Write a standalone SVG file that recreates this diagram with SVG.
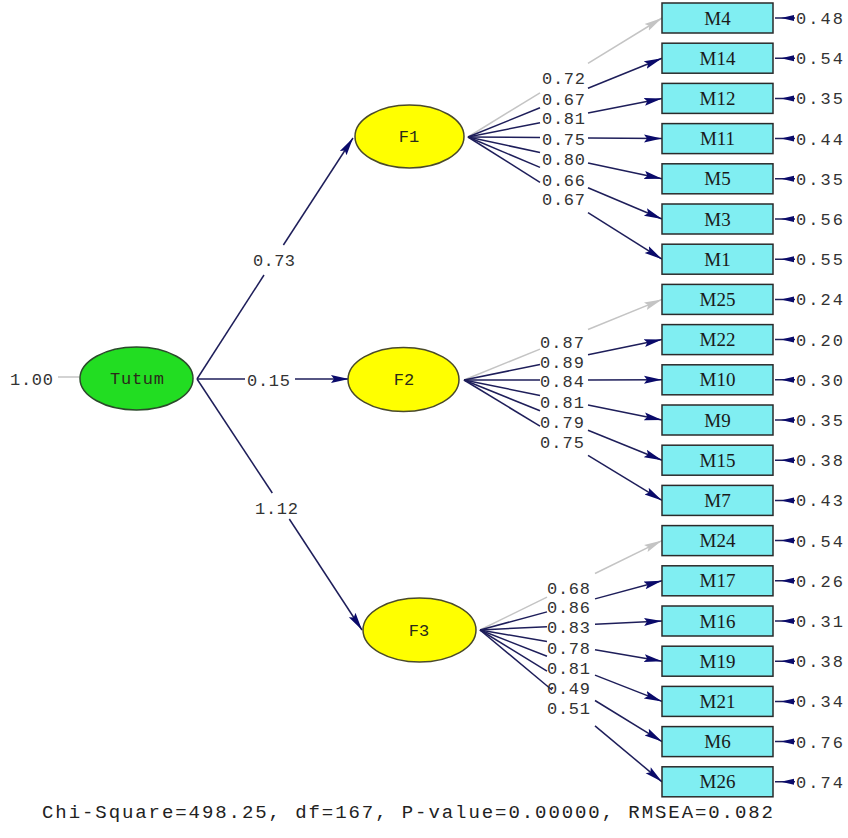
<svg xmlns="http://www.w3.org/2000/svg" width="848" height="838" viewBox="0 0 848 838">
<style>
.bg{fill:#ffffff}
.ln{stroke:#1e1e5a;stroke-width:1.5;fill:none}
.lg{stroke:#c4c4c4;stroke-width:1.5;fill:none}
.box{fill:#80eef2;stroke:#2a2a2a;stroke-width:1.5}
.lat{fill:#ffff00;stroke:#4a4a2a;stroke-width:1.5}
.ex{fill:#22dd22;stroke:#2a4a2a;stroke-width:1.5}
.bt{font-family:"Liberation Serif","Times New Roman",serif;font-size:19px;fill:#1a1a1a;text-anchor:middle}
.nt{font-family:"Liberation Mono","Courier New",monospace;font-size:17px;fill:#2a2a1a;text-anchor:middle}
.lb{font-family:"Liberation Mono","Courier New",monospace;font-size:17px;fill:#333333}
.ft{font-family:"Liberation Mono","Courier New",monospace;font-size:19px;fill:#222222}
.eh{fill:#0a0a6a}
</style>
<defs>
<marker id="ah" markerUnits="userSpaceOnUse" markerWidth="20" markerHeight="10" refX="18" refY="5" orient="auto" viewBox="0 0 20 10"><path d="M0,1 L18,5 L0,9 L3,5 Z" fill="#0a0a6a"/></marker>
<marker id="ag" markerUnits="userSpaceOnUse" markerWidth="20" markerHeight="10" refX="18" refY="5" orient="auto" viewBox="0 0 20 10"><path d="M0,1 L18,5 L0,9 L3,5 Z" fill="#c4c4c4"/></marker>
</defs>
<rect class="bg" x="0" y="0" width="848" height="838"/>
<g id="connectors">
<line class="lg" x1="58" y1="377" x2="80" y2="377"/>
<line class="ln" x1="197" y1="379" x2="264" y2="275"/>
<line class="ln" x1="283.4" y1="245" x2="353" y2="138" marker-end="url(#ah)"/>
<line class="ln" x1="197" y1="379" x2="245" y2="379"/>
<line class="ln" x1="295" y1="379" x2="349" y2="379" marker-end="url(#ah)"/>
<line class="ln" x1="197" y1="379" x2="272.3" y2="493"/>
<line class="ln" x1="289.3" y1="519" x2="362" y2="630" marker-end="url(#ah)"/>
<line class="lg" x1="468" y1="137" x2="540" y2="92.8"/><line class="lg" x1="588" y1="63.4" x2="662" y2="18" marker-end="url(#ag)"/>
<line class="ln" x1="468" y1="137" x2="540" y2="107.8"/><line class="ln" x1="588" y1="88.3" x2="662" y2="58.2" marker-end="url(#ah)"/>
<line class="ln" x1="468" y1="137" x2="540" y2="122.7"/><line class="ln" x1="588" y1="113.1" x2="662" y2="98.4" marker-end="url(#ah)"/>
<line class="ln" x1="468" y1="137" x2="540" y2="137.6"/><line class="ln" x1="588" y1="138" x2="662" y2="138.6" marker-end="url(#ah)"/>
<line class="ln" x1="468" y1="137" x2="540" y2="152.5"/><line class="ln" x1="588" y1="162.9" x2="662" y2="178.8" marker-end="url(#ah)"/>
<line class="ln" x1="468" y1="137" x2="540" y2="167.4"/><line class="ln" x1="588" y1="187.7" x2="662" y2="219" marker-end="url(#ah)"/>
<line class="ln" x1="468" y1="137" x2="540" y2="182.3"/><line class="ln" x1="588" y1="212.6" x2="662" y2="259.2" marker-end="url(#ah)"/>
<line class="lg" x1="464" y1="380" x2="540" y2="349.1"/><line class="lg" x1="588" y1="329.5" x2="662" y2="299.4" marker-end="url(#ag)"/>
<line class="ln" x1="464" y1="380" x2="540" y2="364.5"/><line class="ln" x1="588" y1="354.7" x2="662" y2="339.6" marker-end="url(#ah)"/>
<line class="ln" x1="464" y1="380" x2="540" y2="379.9"/><line class="ln" x1="588" y1="379.9" x2="662" y2="379.8" marker-end="url(#ah)"/>
<line class="ln" x1="464" y1="380" x2="540" y2="395.4"/><line class="ln" x1="588" y1="405.1" x2="662" y2="420" marker-end="url(#ah)"/>
<line class="ln" x1="464" y1="380" x2="540" y2="410.8"/><line class="ln" x1="588" y1="430.2" x2="662" y2="460.2" marker-end="url(#ah)"/>
<line class="ln" x1="464" y1="380" x2="540" y2="426.2"/><line class="ln" x1="588" y1="455.4" x2="662" y2="500.4" marker-end="url(#ah)"/>
<line class="lg" x1="480" y1="630" x2="547" y2="597.1"/><line class="lg" x1="595" y1="573.5" x2="662" y2="540.6" marker-end="url(#ag)"/>
<line class="ln" x1="480" y1="630" x2="547" y2="611.9"/><line class="ln" x1="595" y1="598.9" x2="662" y2="580.8" marker-end="url(#ah)"/>
<line class="ln" x1="480" y1="630" x2="547" y2="626.7"/><line class="ln" x1="595" y1="624.3" x2="662" y2="621" marker-end="url(#ah)"/>
<line class="ln" x1="480" y1="630" x2="547" y2="641.5"/><line class="ln" x1="595" y1="649.7" x2="662" y2="661.2" marker-end="url(#ah)"/>
<line class="ln" x1="480" y1="630" x2="547" y2="656.3"/><line class="ln" x1="595" y1="675.1" x2="662" y2="701.4" marker-end="url(#ah)"/>
<line class="ln" x1="480" y1="630" x2="547" y2="671.1"/><line class="ln" x1="595" y1="700.5" x2="662" y2="741.6" marker-end="url(#ah)"/>
<line class="ln" x1="480" y1="630" x2="552" y2="690"/><line class="ln" x1="595" y1="725.9" x2="662" y2="781.8" marker-end="url(#ah)"/>
<g id="errors">
<path class="ln" d="M775 18H795M775 58.2H795M775 98.4H795M775 138.6H795M775 178.8H795M775 219H795M775 259.2H795M775 299.4H795M775 339.6H795M775 379.8H795M775 420H795M775 460.2H795M775 500.4H795M775 540.6H795M775 580.8H795M775 621H795M775 661.2H795M775 701.4H795M775 741.6H795M775 781.8H795"/>
<path class="eh" d="M781 18l13 -3v6zM781 58.2l13 -3v6zM781 98.4l13 -3v6zM781 138.6l13 -3v6zM781 178.8l13 -3v6zM781 219l13 -3v6zM781 259.2l13 -3v6zM781 299.4l13 -3v6zM781 339.6l13 -3v6zM781 379.8l13 -3v6zM781 420l13 -3v6zM781 460.2l13 -3v6zM781 500.4l13 -3v6zM781 540.6l13 -3v6zM781 580.8l13 -3v6zM781 621l13 -3v6zM781 661.2l13 -3v6zM781 701.4l13 -3v6zM781 741.6l13 -3v6zM781 781.8l13 -3v6z"/>
</g>
<g id="path-labels" class="lb">
<text x="10" y="385" textLength="43">1.00</text>
<text x="253" y="266" textLength="42">0.73</text>
<text x="247" y="386" textLength="43">0.15</text>
<text x="255" y="514" textLength="43">1.12</text>
<text x="542" y="84" textLength="43">0.72</text>
<text x="542" y="105" textLength="43">0.67</text>
<text x="542" y="124" textLength="43">0.81</text>
<text x="542" y="145" textLength="43">0.75</text>
<text x="542" y="165" textLength="43">0.80</text>
<text x="542" y="186" textLength="43">0.66</text>
<text x="542" y="205" textLength="43">0.67</text>
<text x="540" y="348" textLength="44">0.87</text>
<text x="540" y="368" textLength="44">0.89</text>
<text x="540" y="387" textLength="44">0.84</text>
<text x="540" y="408" textLength="44">0.81</text>
<text x="540" y="428" textLength="44">0.79</text>
<text x="540" y="448" textLength="44">0.75</text>
<text x="547" y="594" textLength="43">0.68</text>
<text x="547" y="613" textLength="43">0.86</text>
<text x="547" y="633" textLength="43">0.83</text>
<text x="547" y="654" textLength="43">0.78</text>
<text x="547" y="674" textLength="43">0.81</text>
<text x="547" y="694" textLength="43">0.49</text>
<text x="547" y="714" textLength="43">0.51</text>
<text x="796" y="24" textLength="47">0.48</text>
<text x="796" y="64.2" textLength="47">0.54</text>
<text x="796" y="104.4" textLength="47">0.35</text>
<text x="796" y="144.6" textLength="47">0.44</text>
<text x="796" y="184.8" textLength="47">0.35</text>
<text x="796" y="225" textLength="47">0.56</text>
<text x="796" y="265.2" textLength="47">0.55</text>
<text x="796" y="305.4" textLength="47">0.24</text>
<text x="796" y="345.6" textLength="47">0.20</text>
<text x="796" y="385.8" textLength="47">0.30</text>
<text x="796" y="426" textLength="47">0.35</text>
<text x="796" y="466.2" textLength="47">0.38</text>
<text x="796" y="506.4" textLength="47">0.43</text>
<text x="796" y="546.6" textLength="47">0.54</text>
<text x="796" y="586.8" textLength="47">0.26</text>
<text x="796" y="627" textLength="47">0.31</text>
<text x="796" y="667.2" textLength="47">0.38</text>
<text x="796" y="707.4" textLength="47">0.34</text>
<text x="796" y="747.6" textLength="47">0.76</text>
<text x="796" y="787.8" textLength="47">0.74</text>
</g>
</g>
<g id="Tutum"><ellipse class="ex" cx="136.5" cy="378.5" rx="56.5" ry="31.5"/><text class="nt" x="137" y="384" textLength="54">Tutum</text></g>
<g id="F1"><ellipse class="lat" cx="409.5" cy="136.5" rx="54.5" ry="31.5"/><text class="nt" x="409" y="142">F1</text></g>
<g id="F2"><ellipse class="lat" cx="403.5" cy="379.5" rx="55.5" ry="32"/><text class="nt" x="404" y="385">F2</text></g>
<g id="F3"><ellipse class="lat" cx="419.5" cy="630" rx="56.5" ry="32"/><text class="nt" x="419" y="636">F3</text></g>
<g id="M4"><rect class="box" x="662" y="3" width="111" height="30"/><text class="bt" x="717.5" y="24.5">M4</text></g>
<g id="M14"><rect class="box" x="662" y="43.2" width="111" height="30"/><text class="bt" x="717.5" y="64.7">M14</text></g>
<g id="M12"><rect class="box" x="662" y="83.4" width="111" height="30"/><text class="bt" x="717.5" y="104.9">M12</text></g>
<g id="M11"><rect class="box" x="662" y="123.6" width="111" height="30"/><text class="bt" x="717.5" y="145.1">M11</text></g>
<g id="M5"><rect class="box" x="662" y="163.8" width="111" height="30"/><text class="bt" x="717.5" y="185.3">M5</text></g>
<g id="M3"><rect class="box" x="662" y="204" width="111" height="30"/><text class="bt" x="717.5" y="225.5">M3</text></g>
<g id="M1"><rect class="box" x="662" y="244.2" width="111" height="30"/><text class="bt" x="717.5" y="265.7">M1</text></g>
<g id="M25"><rect class="box" x="662" y="284.4" width="111" height="30"/><text class="bt" x="717.5" y="305.9">M25</text></g>
<g id="M22"><rect class="box" x="662" y="324.6" width="111" height="30"/><text class="bt" x="717.5" y="346.1">M22</text></g>
<g id="M10"><rect class="box" x="662" y="364.8" width="111" height="30"/><text class="bt" x="717.5" y="386.3">M10</text></g>
<g id="M9"><rect class="box" x="662" y="405" width="111" height="30"/><text class="bt" x="717.5" y="426.5">M9</text></g>
<g id="M15"><rect class="box" x="662" y="445.2" width="111" height="30"/><text class="bt" x="717.5" y="466.7">M15</text></g>
<g id="M7"><rect class="box" x="662" y="485.4" width="111" height="30"/><text class="bt" x="717.5" y="506.9">M7</text></g>
<g id="M24"><rect class="box" x="662" y="525.6" width="111" height="30"/><text class="bt" x="717.5" y="547.1">M24</text></g>
<g id="M17"><rect class="box" x="662" y="565.8" width="111" height="30"/><text class="bt" x="717.5" y="587.3">M17</text></g>
<g id="M16"><rect class="box" x="662" y="606" width="111" height="30"/><text class="bt" x="717.5" y="627.5">M16</text></g>
<g id="M19"><rect class="box" x="662" y="646.2" width="111" height="30"/><text class="bt" x="717.5" y="667.7">M19</text></g>
<g id="M21"><rect class="box" x="662" y="686.4" width="111" height="30"/><text class="bt" x="717.5" y="707.9">M21</text></g>
<g id="M6"><rect class="box" x="662" y="726.6" width="111" height="30"/><text class="bt" x="717.5" y="748.1">M6</text></g>
<g id="M26"><rect class="box" x="662" y="766.8" width="111" height="30"/><text class="bt" x="717.5" y="788.3">M26</text></g>
<text class="ft" x="42" y="818" textLength="731" lengthAdjust="spacing">Chi-Square=498.25, df=167, P-value=0.00000, RMSEA=0.082</text>
</svg>
